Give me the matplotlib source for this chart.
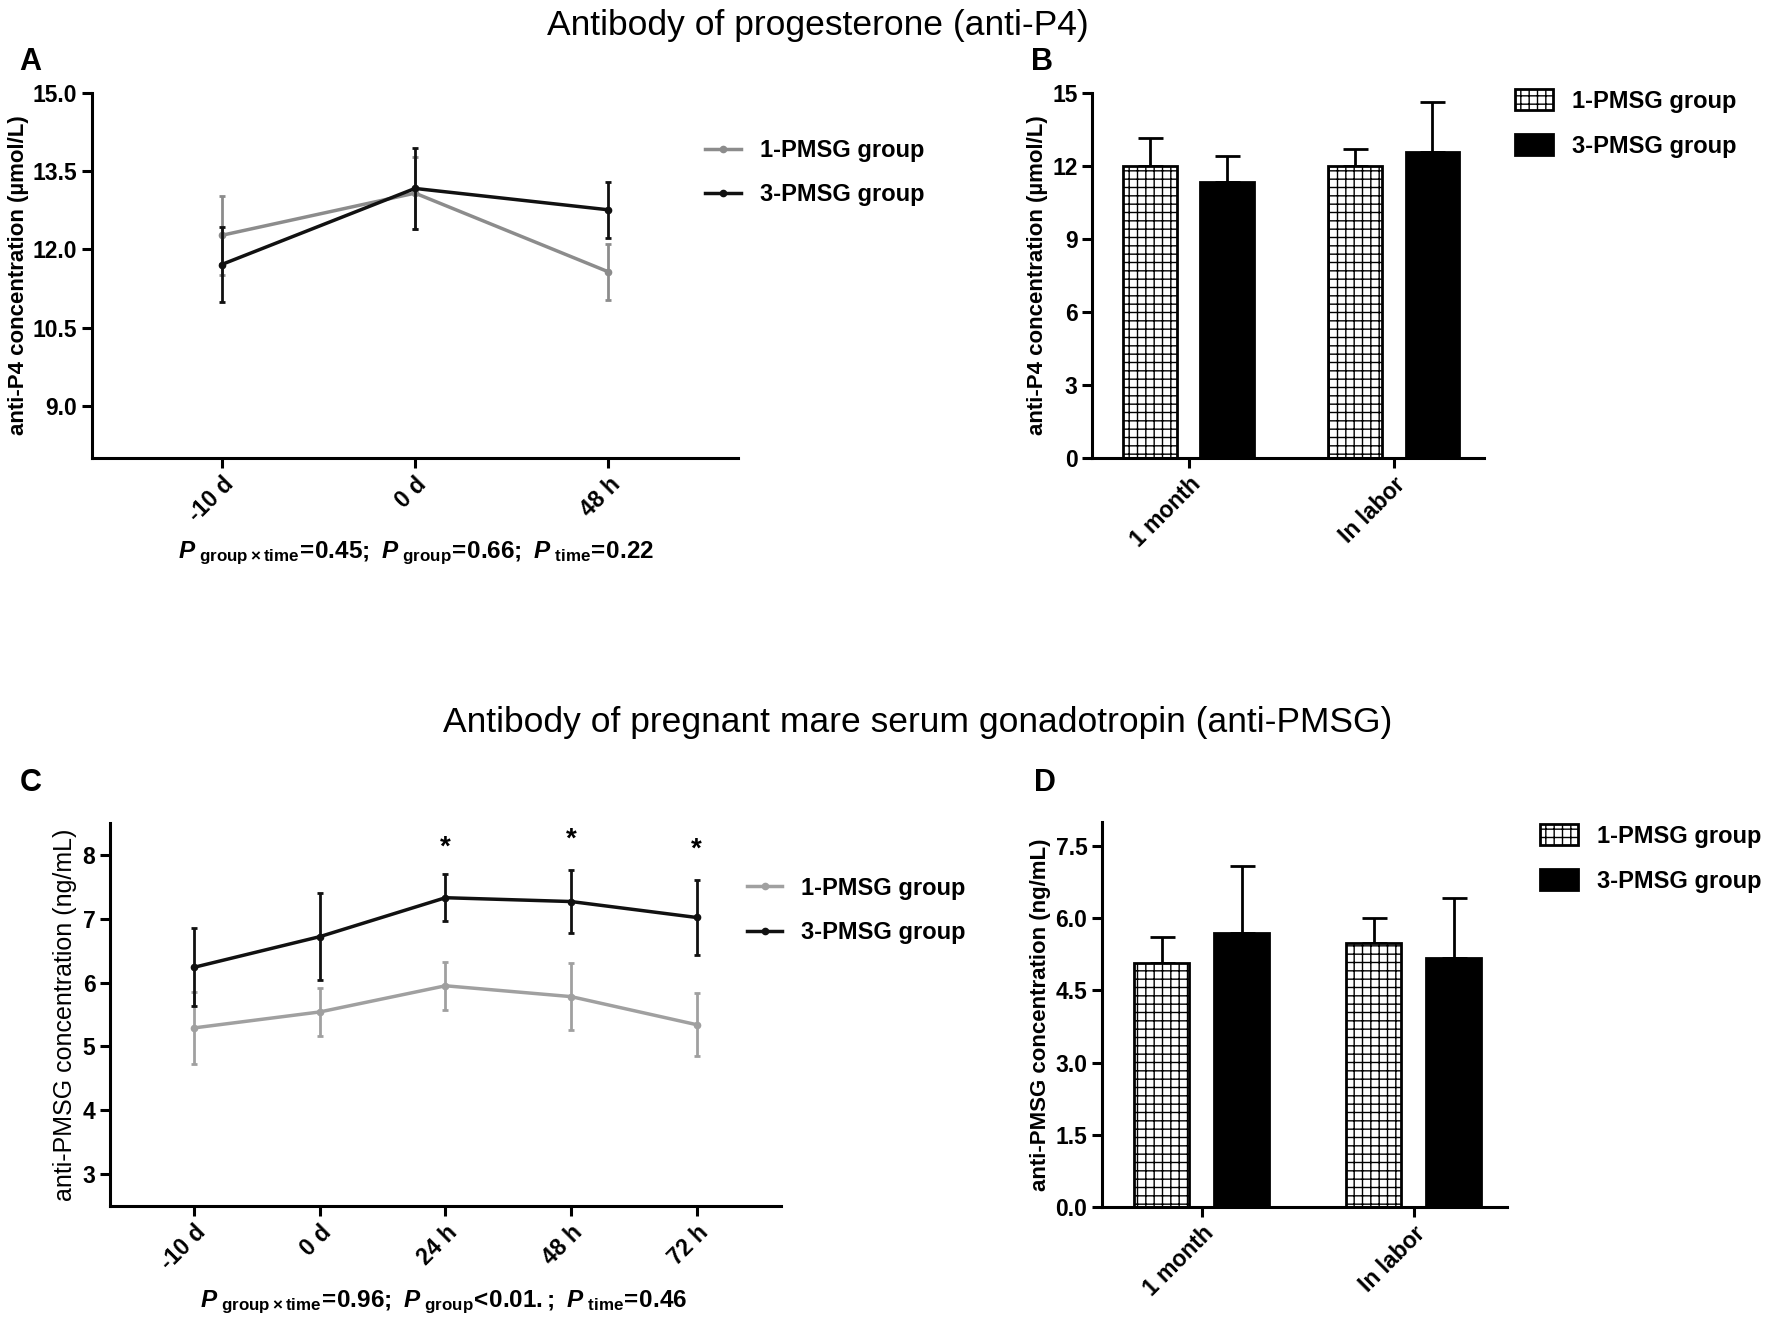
import numpy as np
import matplotlib
matplotlib.use("Agg")
import matplotlib.pyplot as plt
from matplotlib.lines import Line2D

plt.rcParams['font.family'] = ['Liberation Sans', 'DejaVu Sans']
plt.rcParams['mathtext.fontset'] = 'custom'
plt.rcParams['mathtext.rm'] = 'Liberation Sans:bold'
plt.rcParams['mathtext.it'] = 'Liberation Sans:bold:italic'
plt.rcParams['mathtext.bf'] = 'Liberation Sans:bold'
plt.rcParams['hatch.linewidth'] = 1.0

# ---- data ----
groups = ['1-PMSG group', '3-PMSG group']

# A: anti-P4 over time
p4_times = ['-10 d', '0 d', '48 h']
p4_one = [12.27, 13.08, 11.57]
p4_one_err = [0.76, 0.69, 0.54]
p4_three = [11.71, 13.17, 12.76]
p4_three_err = [0.72, 0.77, 0.54]

# B: anti-P4 bars
stages = ['1 month', 'In labor']
p4_bar_one = [12.0, 12.0]
p4_bar_one_err = [1.16, 0.72]
p4_bar_three = [11.36, 12.56]
p4_bar_three_err = [1.04, 2.07]

# C: anti-PMSG over time
pmsg_times = ['-10 d', '0 d', '24 h', '48 h', '72 h']
pmsg_one = [5.29, 5.54, 5.95, 5.78, 5.34]
pmsg_one_err = [0.57, 0.37, 0.38, 0.53, 0.49]
pmsg_three = [6.24, 6.72, 7.33, 7.27, 7.02]
pmsg_three_err = [0.61, 0.68, 0.37, 0.49, 0.58]
star_idx = [2, 3, 4]
star_y = [8.12, 8.24, 8.08]

# D: anti-PMSG bars
pmsg_bar_one = [5.06, 5.49]
pmsg_bar_one_err = [0.55, 0.51]
pmsg_bar_three = [5.70, 5.18]
pmsg_bar_three_err = [1.39, 1.24]

GRAY = '#8c8c8c'
LIGHT = '#a0a0a0'
DARK = '#111111'
TICK_FS = 16.5
LAB_FS = 16
LEG_FS = 17


def style_axes(ax):
    for s in ['top', 'right']:
        ax.spines[s].set_visible(False)
    for s in ['left', 'bottom']:
        ax.spines[s].set_linewidth(2.2)
    ax.tick_params(axis='both', direction='out', length=7, width=2.2,
                   labelsize=TICK_FS)
    for lab in ax.get_yticklabels():
        lab.set_fontweight('bold')


def set_xlabels(ax, labels):
    ax.set_xticklabels(labels, rotation=45, ha='right', rotation_mode='anchor',
                       fontsize=TICK_FS, fontweight='bold')


def line_panel(ax, times, one, one_err, three, three_err, one_col):
    x = np.arange(len(times))
    ax.errorbar(x, one, yerr=one_err, color=one_col, lw=2.5, elinewidth=2,
                capsize=2, capthick=2, marker='o', ms=4.5, zorder=2)
    ax.errorbar(x, three, yerr=three_err, color=DARK, lw=2.5, elinewidth=2,
                capsize=2, capthick=2, marker='o', ms=4.5, zorder=3)
    ax.set_xticks(x)
    set_xlabels(ax, times)
    ax.set_xlim(-0.67, len(times) - 1 + 0.67)
    handles = [Line2D([], [], color=one_col, lw=2.5, marker='o', ms=4.5),
               Line2D([], [], color=DARK, lw=2.5, marker='o', ms=4.5)]
    return handles


def bar_panel(ax, one, one_err, three, three_err):
    x = np.arange(len(stages))
    w = 0.26
    off = 0.188
    ax.bar(x - off, one, w, color='white', edgecolor='black', hatch='++',
           linewidth=2, label=groups[0], zorder=2)
    ax.bar(x + off, three, w, color='black', edgecolor='black',
           linewidth=2, label=groups[1], zorder=2)
    ax.errorbar(x - off, one, yerr=[np.zeros(len(one)), one_err], fmt='none',
                ecolor='black', elinewidth=2, capsize=9, capthick=2, zorder=1)
    ax.errorbar(x + off, three, yerr=[np.zeros(len(three)), three_err], fmt='none',
                ecolor='black', elinewidth=2, capsize=9, capthick=2, zorder=1)
    ax.set_xticks(x)
    set_xlabels(ax, stages)
    ax.set_xlim(-0.47, 1.44)


def add_legend(handles, anchor, **kw):
    fig.legend(handles, groups, loc='center left', bbox_to_anchor=anchor,
               frameon=False, prop={'weight': 'bold', 'size': LEG_FS},
               handletextpad=0.8, labelspacing=0.9, borderpad=0,
               borderaxespad=0, **kw)


fig = plt.figure(figsize=(17.72, 13.29), dpi=100)

# ---- A ----
axA = fig.add_axes([0.0519, 0.6554, 0.3646, 0.2746])
hA = line_panel(axA, p4_times, p4_one, p4_one_err, p4_three, p4_three_err, GRAY)
axA.set_ylim(8, 15)
axA.set_yticks([9.0, 10.5, 12.0, 13.5, 15.0])
axA.set_yticklabels(['9.0', '10.5', '12.0', '13.5', '15.0'])
axA.set_ylabel('anti-P4 concentration (µmol/L)', fontsize=LAB_FS,
               fontweight='bold', labelpad=3)
style_axes(axA)
add_legend(hA, (0.398, 0.870), handlelength=1.5)

# ---- B ----
axB = fig.add_axes([0.6163, 0.6554, 0.2212, 0.2746])
bar_panel(axB, p4_bar_one, p4_bar_one_err, p4_bar_three, p4_bar_three_err)
axB.set_ylim(0, 15)
axB.set_yticks([0, 3, 6, 9, 12, 15])
axB.set_ylabel('anti-P4 concentration (µmol/L)', fontsize=LAB_FS,
               fontweight='bold', labelpad=3)
style_axes(axB)
add_legend(axB.get_legend_handles_labels()[0], (0.855, 0.907),
           handlelength=1.6, handleheight=1.0)

# ---- C ----
axC = fig.add_axes([0.0621, 0.0926, 0.3786, 0.2881])
hC = line_panel(axC, pmsg_times, pmsg_one, pmsg_one_err, pmsg_three,
                pmsg_three_err, LIGHT)
axC.set_ylim(2.5, 8.5)
axC.set_yticks([3, 4, 5, 6, 7, 8])
axC.set_ylabel('anti-PMSG concentration (ng/mL)', fontsize=18, labelpad=4)
for i, yv in zip(star_idx, star_y):
    axC.text(i, yv, '*', ha='center', va='center', fontsize=20, fontweight='bold')
style_axes(axC)
add_legend(hC, (0.4216, 0.315), handlelength=1.5)

# ---- D ----
axD = fig.add_axes([0.6219, 0.0918, 0.2286, 0.2897])
bar_panel(axD, pmsg_bar_one, pmsg_bar_one_err, pmsg_bar_three, pmsg_bar_three_err)
axD.set_ylim(0, 8)
axD.set_yticks([0, 1.5, 3.0, 4.5, 6.0, 7.5])
axD.set_yticklabels(['0.0', '1.5', '3.0', '4.5', '6.0', '7.5'])
axD.set_ylabel('anti-PMSG concentration (ng/mL)', fontsize=LAB_FS,
               fontweight='bold', labelpad=3)
style_axes(axD)
add_legend(axD.get_legend_handles_labels()[0], (0.869, 0.354),
           handlelength=1.6, handleheight=1.0)

# ---- titles, letters, p-values ----
fig.text(0.4617, 0.981, 'Antibody of progesterone (anti-P4)', ha='center',
         va='center', fontsize=25.5)
fig.text(0.518, 0.456, 'Antibody of pregnant mare serum gonadotropin (anti-PMSG)',
         ha='center', va='center', fontsize=25.5)
for lab, xx, yy in [('A', 0.011, 0.953), ('B', 0.582, 0.953),
                    ('C', 0.011, 0.411), ('D', 0.5835, 0.411)]:
    fig.text(xx, yy, lab, fontsize=22, fontweight='bold', va='center', ha='left')

fig.text(0.235, 0.584,
         r'$P_{\ \mathrm{group\times time}}\!\mathrm{=}\!\mathrm{0.45;}\ '
         r'P_{\ \mathrm{group}}\!\mathrm{=}\!\mathrm{0.66;}\ '
         r'P_{\ \mathrm{time}}\!\mathrm{=}\!\mathrm{0.22}$',
         ha='center', va='center', fontsize=17.5)
fig.text(0.2506, 0.0204,
         r'$P_{\ \mathrm{group\times time}}\!\mathrm{=}\!\mathrm{0.96;}\ '
         r'P_{\ \mathrm{group}}\!\mathrm{<}\!\mathrm{0.01.;}\ '
         r'P_{\ \mathrm{time}}\!\mathrm{=}\!\mathrm{0.46}$',
         ha='center', va='center', fontsize=17.5)

fig.savefig('out.png', dpi=100)
